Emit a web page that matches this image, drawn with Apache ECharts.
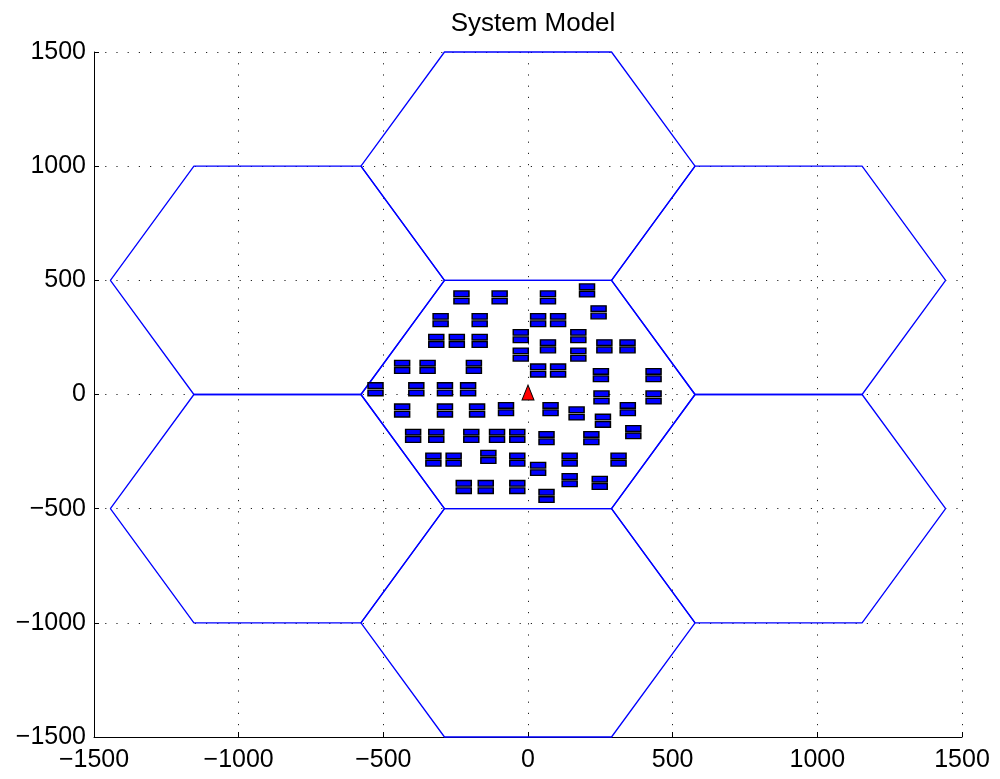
<!DOCTYPE html>
<html>
<head>
<meta charset="utf-8">
<script src="https://cdn.jsdelivr.net/npm/echarts@6/dist/echarts.min.js"></script>
<style>
html,body{margin:0;padding:0;background:#fff;}
#chart{width:1000px;height:779px;}
</style>
</head>
<body>
<div id="chart"></div>
<script>
// ---- data ----
const titleText = 'System Model';
const axisTicks = [-1500, -1000, -500, 0, 500, 1000, 1500];
const cellRadius = 577.35;          // hexagon circumradius (flat-top cells)
const cellCentersX = [0, 0, 0, 866, 866, -866, -866];
const cellCentersY = [0, 1000, -1000, 500, -500, 500, -500];
const baseStationX = [0];
const baseStationY = [0];
const userX = [-230, -98, -302, -167, -317, -246, -167, -25, -25, -435, -347, -187,
  -527, -386, -287, -207, 69, 204, 244, 35, 104, 174, 69, 264, 344, 174, 35, 104,
  252, 434, 254, 434, -435, -287, -176, -76, -397, -317, -196, -107, -37, -327,
  -257, -137, -37, -222, -146, -37, 78, 168, 259, 345, 364, 64, 219, 144, 313,
  35, 144, 248, 64];
const userY = [425, 425, 326, 326, 235, 235, 235, 256, 175, 121, 121, 121,
  23, 23, 23, 23, 425, 456, 360, 326, 326, 256, 211, 211, 211, 175, 105, 105,
  85, 85, -13, -13, -70, -70, -70, -64, -181, -181, -181, -181, -181, -285,
  -285, -273, -285, -405, -405, -405, -64, -83, -115, -64, -165, -191, -191, -285, -285,
  -326, -375, -387, -444];

// ---- build ----
function hexagon(cx, cy, r) {
  const pts = [];
  for (let k = 0; k <= 6; k++) {
    const a = Math.PI / 3 * k;
    pts.push([cx + r * Math.cos(a), cy + r * Math.sin(a)]);
  }
  return pts;
}
const series = [];
for (let i = 0; i < cellCentersX.length; i++) {
  series.push({
    type: 'line',
    data: hexagon(cellCentersX[i], cellCentersY[i], cellRadius),
    symbol: 'none',
    clip: false,
    silent: true,
    lineStyle: { color: '#0000ff', width: 1.3 },
    z: 2
  });
}
series.push({
  type: 'scatter',
  data: userX.map((x, i) => [x, userY[i]]),
  symbol: 'path://M0,0H30V10H0Z M0,13H30V23H0Z',
  symbolSize: [15, 13],
  itemStyle: { color: '#0000ff', borderColor: '#000', borderWidth: 1.4, opacity: 1 },
  z: 3
});
series.push({
  type: 'scatter',
  data: baseStationX.map((x, i) => [x, baseStationY[i]]),
  symbol: 'triangle',
  symbolSize: [12, 15],
  symbolOffset: [0, -2],
  itemStyle: { color: '#ff0000', borderColor: '#000', borderWidth: 1, opacity: 1 },
  z: 4
});

const fmt = v => String(v).replace('-', '\u2212');
const axisCommon = {
  type: 'value',
  min: axisTicks[0],
  max: axisTicks[axisTicks.length - 1],
  interval: axisTicks[1] - axisTicks[0],
  axisLine: { show: true, onZero: false, lineStyle: { color: '#000', width: 1 } },
  axisTick: { show: true, inside: true, length: 5, lineStyle: { color: '#000' } },
  splitLine: { show: true, lineStyle: { color: '#222', width: 1, type: [1.2, 10] } },
  axisLabel: {
    color: '#000', fontSize: 25, fontFamily: 'Liberation Sans, Arial, sans-serif',
    formatter: fmt, showMinLabel: true, showMaxLabel: true
  }
};

const chart = echarts.init(document.getElementById('chart'), null, { renderer: 'canvas' });
chart.setOption({
  animation: false,
  backgroundColor: '#fff',
  title: {
    text: titleText,
    left: 528,
    top: 6,
    textAlign: 'center',
    textStyle: { color: '#000', fontSize: 26, fontWeight: 'normal', fontFamily: 'Liberation Sans, Arial, sans-serif' }
  },
  grid: { left: 94, right: 38, top: 52, bottom: 42, containLabel: false },
  xAxis: Object.assign({}, axisCommon, { axisLabel: Object.assign({}, axisCommon.axisLabel, { margin: 11 }) }),
  yAxis: Object.assign({}, axisCommon, { axisLabel: Object.assign({}, axisCommon.axisLabel, { margin: 8 }) }),
  series: series
});
</script>
</body>
</html>
